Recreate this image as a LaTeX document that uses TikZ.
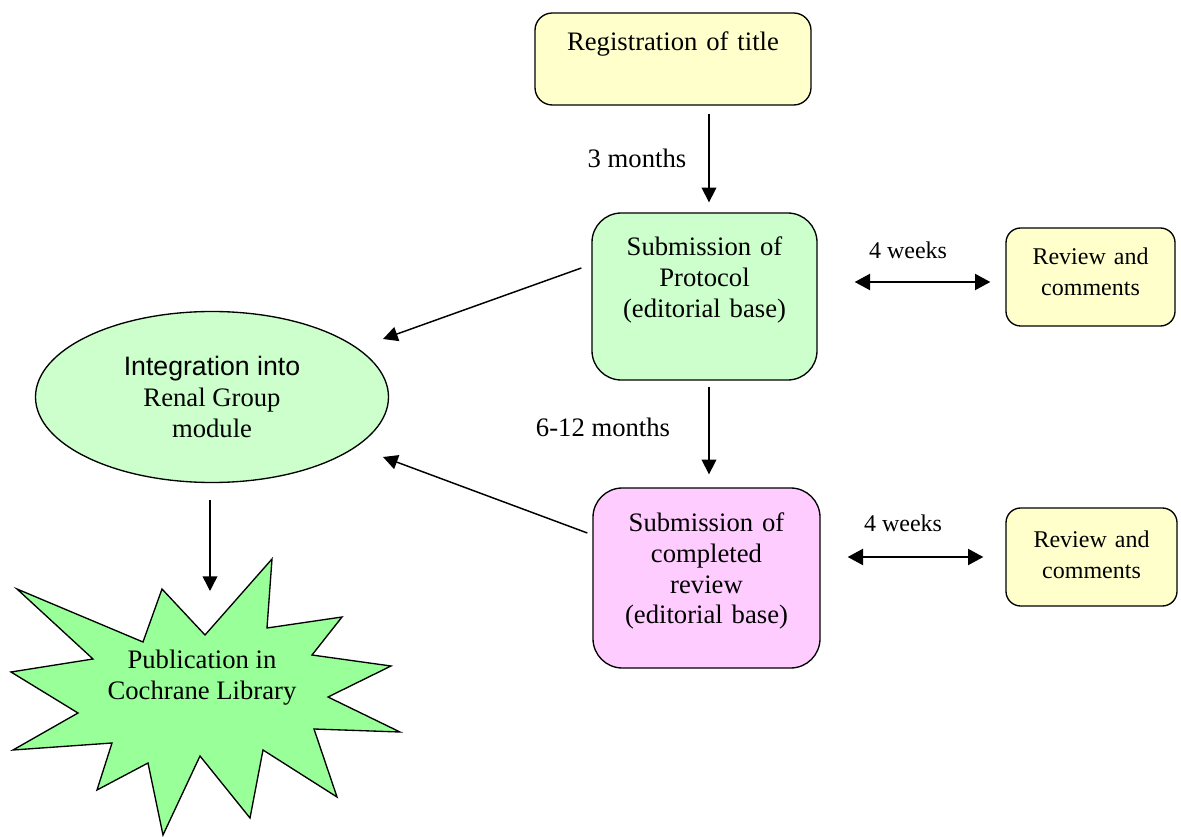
\documentclass[tikz,border=0pt]{standalone}
\usepackage{fontspec}
\setmainfont{Liberation Serif}
\newfontfamily\arialfont{Liberation Sans}
\usetikzlibrary{arrows.meta,shapes.geometric,calc}

\definecolor{paleyellow}{RGB}{255,255,204}
\definecolor{palegreen}{RGB}{204,255,204}
\definecolor{palepink}{RGB}{255,204,255}
\definecolor{stargreen}{RGB}{153,255,153}

\tikzset{
	stage/.style={draw, line width=1pt, inner sep=0pt, align=center,
		font=\fontsize{20}{23.25}\selectfont},
	small/.style={font=\fontsize{18}{23.25}\selectfont},
	arr/.style={-{Triangle[length=11pt,width=11pt]}, line width=1.1pt},
	dbl/.style={{Triangle[length=11.5pt,width=12pt]}-{Triangle[length=11.5pt,width=12pt]}, line width=1.6pt},
	lbl/.style={inner sep=0pt, font=\fontsize{20}{23.25}\selectfont}
}

\begin{document}
\begin{tikzpicture}[x=0.75pt,y=-0.75pt]
		\useasboundingbox (0,0) rectangle (1181,837);
		% boxes
		\node[stage, fill=paleyellow, rounded corners=13pt, text width=200pt, minimum width=207pt,
		text height=28.5pt, text depth=40.5pt] (reg) at (673,59) {Registration of title};
		\node[stage, fill=palegreen, rounded corners=22pt, text width=160pt, minimum width=168.75pt,
		text height=32.25pt, text depth=93pt] (proto) at (704.5,296.5) {Submission of\\Protocol\\(editorial base)};
		\node[stage, fill=palepink, rounded corners=22pt, text width=160pt, minimum width=170.25pt,
		text height=32.25pt, text depth=102.75pt] (compl) at (706.5,578) {Submission of\\completed\\review\\(editorial base)};
		\node[stage, small, fill=paleyellow, rounded corners=11pt, text width=120pt, minimum width=126.75pt,
		text height=27.75pt, text depth=45.75pt] (rev1) at (1090.5,277) {Review and\\comments};
		\node[stage, small, fill=paleyellow, rounded corners=11pt, text width=120pt, minimum width=128.25pt,
		text height=29.25pt, text depth=44.25pt] (rev2) at (1091.5,557) {Review and\\comments};
		\node[stage, ellipse, fill=palegreen, minimum width=264.75pt, minimum height=128.25pt] (integ)
		at (212,397) {{\arialfont Integration into}\\Renal Group\\module};
		% star
		\draw[line width=1pt, fill=stargreen, line join=miter] (272,559) -- (267,628) -- (342,617) -- (312,655)
		-- (391,666) -- (328,697) -- (400,732) -- (314,729) -- (337,797) -- (263,750)
		-- (250,818) -- (200,756) -- (163,835) -- (148,763) -- (97,790) -- (112,743)
		-- (13,750) -- (78,713) -- (11,672) -- (93,659) -- (17,589) -- (143,642)
		-- (162,589) -- (205,635) -- cycle;
		\node[lbl, align=center] (pub) at (202,678) {Publication in\\Cochrane Library};
		\coordinate (startop) at (210,591);
		% labels
		\node[lbl] (m3) at (637,158) {3 months};
		\node[lbl] (m612) at (603,427) {6-12 months};
		\node[lbl, small] (wk1) at (908,250) {4 weeks};
		\node[lbl, small] (wk2) at (903,523) {4 weeks};
		% arrows
		\draw[arr] ($(reg.south)+(36,8)$) -- ($(proto.north)+(4.5,-10)$);
		\draw[arr] ($(proto.south)+(4.5,6)$) -- ($(compl.north)+(2.5,-13)$);
		\draw[arr] ($(proto.west)+(-10,-28.5)$) -- ($(integ)+(171,-58)$);
		\draw[arr] ($(compl.west)+(-5,-45)$) -- ($(integ)+(171,60)$);
		\draw[arr] ($(integ.south)+(-2,17)$) -- (startop);
		\draw[dbl] ($(proto.east)+(37,-14.5)$) -- ($(rev1.west)+(-15,5)$);
		\draw[dbl] ($(compl.east)+(27,-21)$) -- ($(rev2.west)+(-22,0)$);
\end{tikzpicture}
\end{document}
